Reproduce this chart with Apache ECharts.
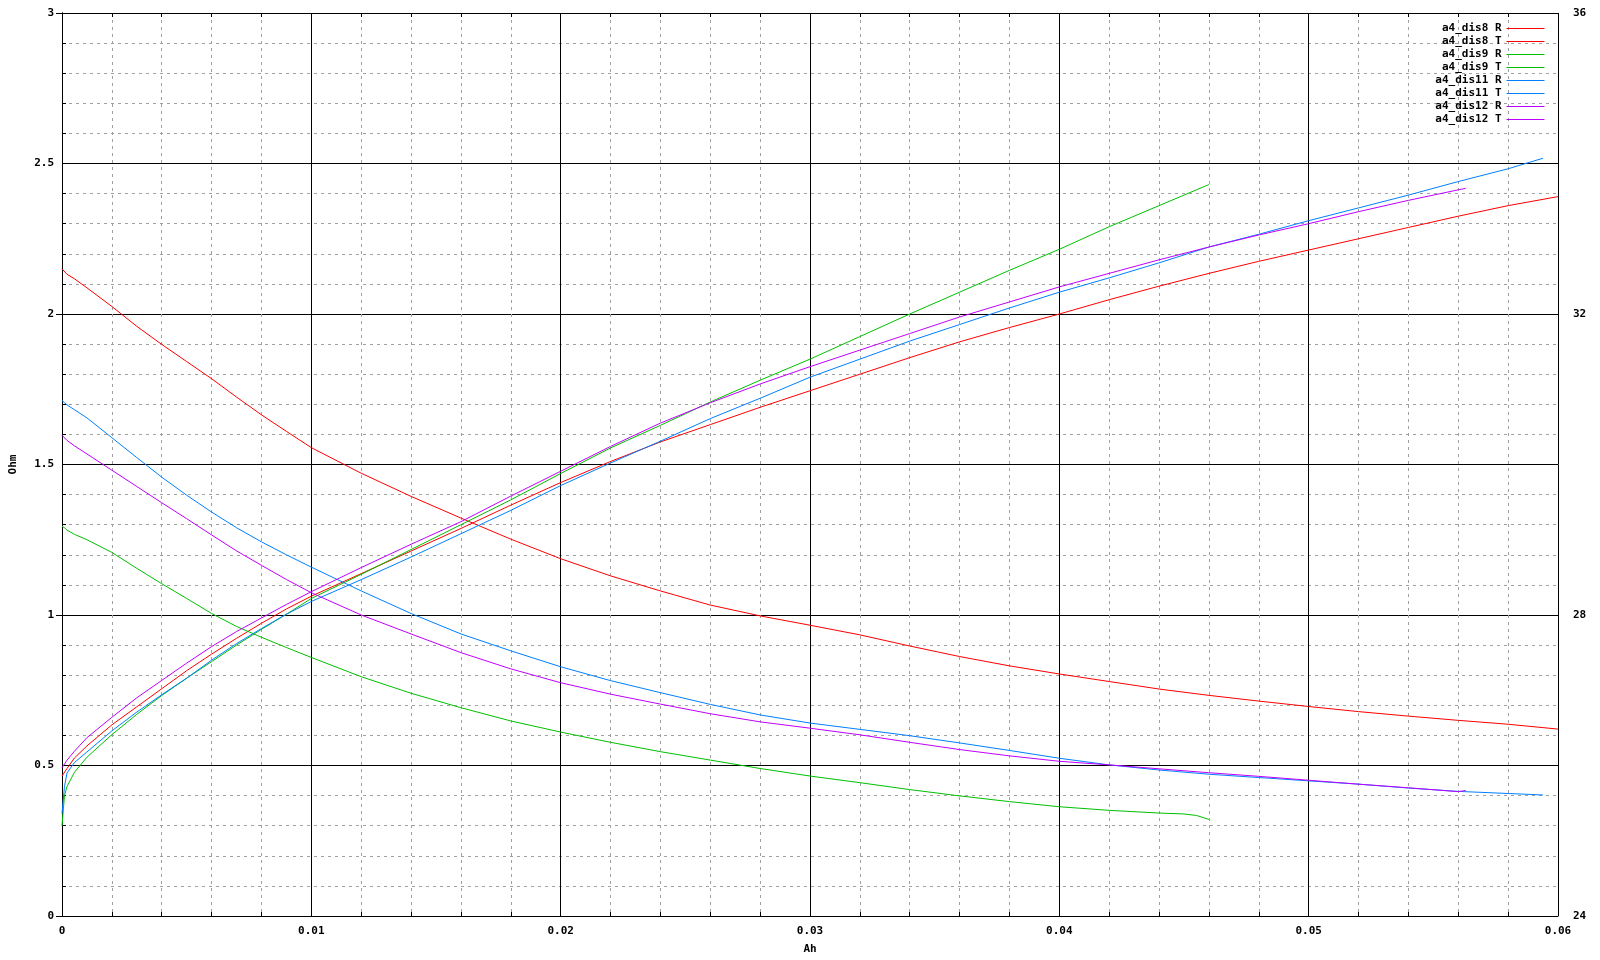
<!DOCTYPE html>
<html>
<head>
<meta charset="utf-8">
<script src="https://cdn.jsdelivr.net/npm/echarts@6/dist/echarts.min.js"></script>
<style>
html,body{margin:0;padding:0;background:#fff;}
#chart{width:1600px;height:960px;}
</style>
</head>
<body>
<div id="chart"></div>
<script>
// ---- data (Ah vs Ohm for R series, Ah vs temperature for T series) ----
const seriesNames = ['a4_dis8 R','a4_dis8 T','a4_dis9 R','a4_dis9 T','a4_dis11 R','a4_dis11 T','a4_dis12 R','a4_dis12 T'];
const seriesColors = ['#ff0000','#ff0000','#00c000','#00c000','#0080ff','#0080ff','#c000ff','#c000ff'];

const dis8_x = [0,0.0002,0.0005,0.001,0.002,0.003,0.004,0.005,0.006,0.007,0.008,0.009,0.01,0.012,0.014,0.016,0.018,0.02,0.022,0.024,0.026,0.028,0.03,0.032,0.034,0.036,0.038,0.04,0.042,0.044,0.046,0.048,0.05,0.052,0.054,0.056,0.058,0.06];
const dis8_R = [2.15,2.132,2.117,2.087,2.025,1.959,1.899,1.842,1.785,1.724,1.665,1.61,1.556,1.471,1.394,1.322,1.252,1.187,1.13,1.08,1.033,0.997,0.966,0.934,0.897,0.862,0.831,0.804,0.779,0.754,0.733,0.714,0.696,0.679,0.664,0.65,0.637,0.621];
const dis8_T = [25.86,25.96,26.10,26.26,26.54,26.78,27.02,27.26,27.48,27.69,27.89,28.08,28.25,28.55,28.85,29.15,29.46,29.76,30.04,30.30,30.53,30.76,30.98,31.20,31.42,31.63,31.82,32.0,32.19,32.37,32.54,32.7,32.85,33.0,33.15,33.3,33.44,33.56];

const dis9_x = [0,0.0001,0.0002,0.0005,0.001,0.002,0.003,0.004,0.005,0.006,0.007,0.008,0.009,0.01,0.012,0.014,0.016,0.018,0.02,0.022,0.024,0.026,0.028,0.03,0.032,0.034,0.036,0.038,0.04,0.042,0.044,0.045,0.0455,0.046];
const dis9_R = [1.295,1.29,1.282,1.268,1.25,1.208,1.155,1.104,1.055,1.005,0.962,0.926,0.892,0.859,0.795,0.74,0.692,0.648,0.611,0.577,0.546,0.518,0.49,0.465,0.443,0.42,0.399,0.38,0.363,0.351,0.342,0.339,0.334,0.321];
const dis9_T = [25.2,25.6,25.72,25.91,26.11,26.41,26.68,26.93,27.16,27.38,27.6,27.81,28.01,28.22,28.54,28.87,29.2,29.53,29.88,30.22,30.52,30.83,31.12,31.4,31.7,32.0,32.29,32.58,32.86,33.16,33.44,33.58,33.65,33.72];

const dis11_x = [0,0.0001,0.0002,0.0005,0.001,0.002,0.003,0.004,0.005,0.006,0.007,0.008,0.009,0.01,0.012,0.014,0.016,0.018,0.02,0.022,0.024,0.026,0.028,0.03,0.032,0.034,0.036,0.038,0.04,0.042,0.044,0.046,0.048,0.05,0.052,0.054,0.056,0.058,0.0594];
const dis11_R = [1.713,1.705,1.698,1.682,1.655,1.589,1.523,1.458,1.398,1.342,1.29,1.243,1.2,1.159,1.08,1.005,0.937,0.881,0.828,0.782,0.742,0.703,0.668,0.641,0.62,0.599,0.575,0.55,0.524,0.502,0.485,0.471,0.46,0.449,0.438,0.425,0.414,0.407,0.402];
const dis11_T = [25.36,25.72,25.9,26.04,26.18,26.46,26.71,26.94,27.16,27.4,27.62,27.82,28.01,28.18,28.47,28.77,29.08,29.39,29.72,30.02,30.31,30.61,30.88,31.16,31.4,31.64,31.86,32.08,32.29,32.48,32.68,32.89,33.06,33.24,33.41,33.58,33.76,33.93,34.07];

const dis12_x = [0,0.0002,0.0005,0.001,0.002,0.003,0.004,0.005,0.006,0.007,0.008,0.009,0.01,0.012,0.014,0.016,0.018,0.02,0.022,0.024,0.026,0.028,0.03,0.032,0.034,0.036,0.038,0.04,0.042,0.044,0.046,0.048,0.05,0.052,0.054,0.056,0.0563];
const dis12_R = [1.597,1.58,1.562,1.535,1.481,1.427,1.373,1.32,1.266,1.213,1.165,1.118,1.074,1.0,0.937,0.875,0.821,0.775,0.737,0.704,0.672,0.645,0.624,0.602,0.577,0.553,0.532,0.514,0.502,0.489,0.476,0.464,0.451,0.438,0.426,0.413,0.417];
const dis12_T = [25.97,26.07,26.19,26.37,26.64,26.9,27.13,27.36,27.58,27.78,27.96,28.14,28.31,28.63,28.94,29.24,29.58,29.91,30.24,30.55,30.82,31.07,31.3,31.52,31.74,31.96,32.16,32.36,32.54,32.72,32.89,33.05,33.2,33.36,33.51,33.65,33.67];

// ---- build ----
const pairs = (xs, ys) => xs.map((x, i) => [x, ys[i]]);
const seriesData = [
  [dis8_x, dis8_R, 0], [dis8_x, dis8_T, 1],
  [dis9_x, dis9_R, 0], [dis9_x, dis9_T, 1],
  [dis11_x, dis11_R, 0], [dis11_x, dis11_T, 1],
  [dis12_x, dis12_R, 0], [dis12_x, dis12_T, 1]
];

const FONT = 'DejaVu Sans Mono';
const txt = { fontFamily: FONT, fontWeight: 'bold', fontSize: 11, color: '#000' };
const minorGrid = { show: true, lineStyle: { color: '#a0a0a0', width: 1, type: [3, 4] } };
const majorGrid = { show: true, lineStyle: { color: '#000', width: 1 } };
const axisLine = { show: true, lineStyle: { color: '#000', width: 1 } };

const chart = echarts.init(document.getElementById('chart'), null, { renderer: 'canvas' });
chart.setOption({
  animation: false,
  backgroundColor: '#fff',
  grid: { left: 61, right: 42, top: 13, bottom: 40, containLabel: false },
  legend: {
    orient: 'vertical',
    right: 55,
    top: 22,
    align: 'right',
    itemGap: 0,
    itemWidth: 38,
    itemHeight: 13,
    itemTextGap: 8,
    padding: 0,
    itemStyle: { opacity: 0 },
    lineStyle: { width: 1 },
    textStyle: Object.assign({}, txt, { lineHeight: 13 }),
    formatter: name => name.length < 10 ? ' ' + name : name,
    data: seriesNames
  },
  xAxis: [{
    type: 'value', min: 0, max: 0.06, interval: 0.01,
    position: 'bottom',
    name: 'Ah', nameLocation: 'middle', nameGap: 28,
    nameTextStyle: txt,
    axisLine: axisLine,
    axisTick: { show: true, inside: true, length: 6, lineStyle: { color: '#000' } },
    minorTick: { show: true, splitNumber: 5, length: 4, lineStyle: { color: '#000' } },
    axisLabel: Object.assign({}, txt, { margin: 10, formatter: v => v === 0 ? '0' : v.toFixed(2) }),
    splitLine: majorGrid,
    minorSplitLine: minorGrid
  }, {
    type: 'value', min: 0, max: 0.06, interval: 0.01,
    position: 'top',
    axisLine: axisLine,
    axisTick: { show: true, inside: true, length: 6, lineStyle: { color: '#000' } },
    minorTick: { show: true, splitNumber: 5, length: 4, lineStyle: { color: '#000' } },
    axisLabel: { show: false },
    splitLine: { show: false }
  }],
  yAxis: [{
    type: 'value', min: 0, max: 3, interval: 0.5,
    position: 'left',
    name: 'Ohm', nameLocation: 'middle', nameGap: 43,
    nameTextStyle: txt,
    axisLine: axisLine,
    axisTick: { show: true, inside: true, length: 6, lineStyle: { color: '#000' } },
    minorTick: { show: true, splitNumber: 5, length: 4, lineStyle: { color: '#000' } },
    axisLabel: Object.assign({}, txt, { margin: 8 }),
    splitLine: majorGrid,
    minorSplitLine: minorGrid
  }, {
    type: 'value', min: 24, max: 36, interval: 4,
    position: 'right',
    axisLine: axisLine,
    axisTick: { show: true, inside: true, length: 6, lineStyle: { color: '#000' } },
    axisLabel: Object.assign({}, txt, { margin: 15 }),
    splitLine: { show: false }
  }],
  series: seriesData.map((s, i) => ({
    name: seriesNames[i],
    type: 'line',
    xAxisIndex: 0,
    yAxisIndex: s[2],
    data: pairs(s[0], s[1]),
    showSymbol: false,
    symbol: 'none',
    smooth: false,
    lineStyle: { width: 1, color: seriesColors[i] },
    itemStyle: { color: seriesColors[i] },
    emphasis: { disabled: true }
  }))
});
</script>
</body>
</html>
